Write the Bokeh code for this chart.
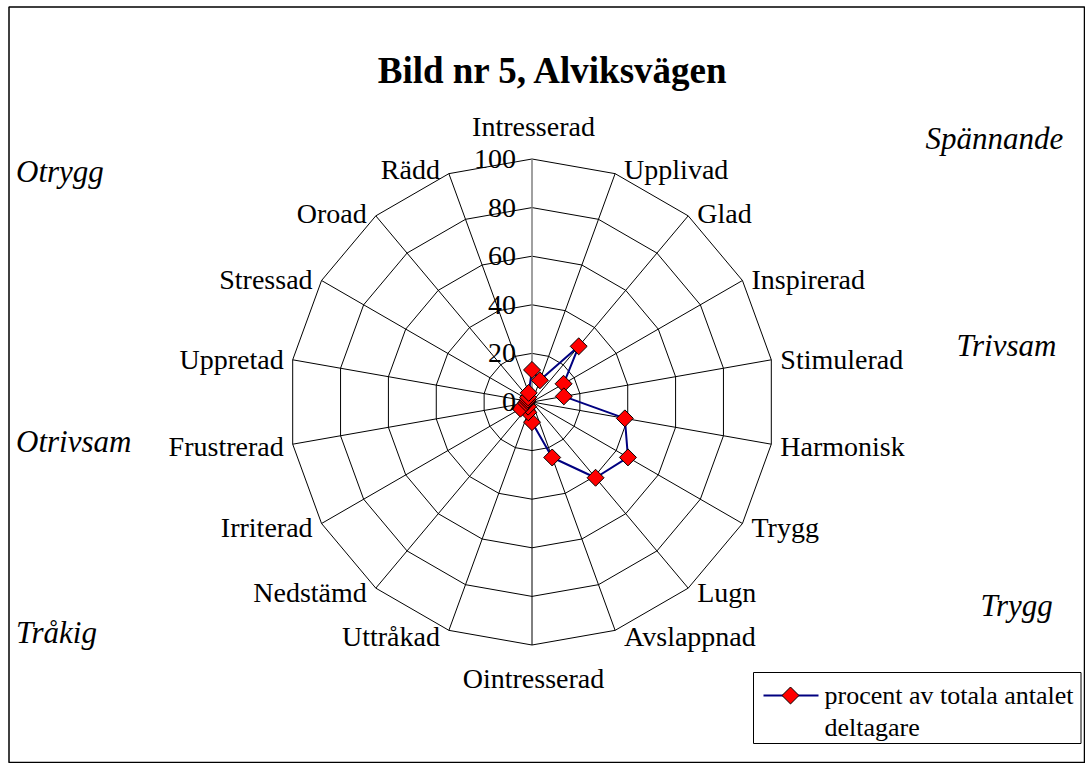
import numpy as np
from bokeh.plotting import figure
from bokeh.models import Range1d, ColumnDataSource
from bokeh.core.properties import value
from bokeh.embed import file_html
from bokeh.resources import INLINE

# ---------------- data ----------------
title = "Bild nr 5, Alviksvägen"
categories = ["Intresserad", "Upplivad", "Glad", "Inspirerad", "Stimulerad",
              "Harmonisk", "Trygg", "Lugn", "Avslappnad", "Ointresserad",
              "Uttråkad", "Nedstämd", "Irriterad", "Frustrerad", "Uppretad",
              "Stressad", "Oroad", "Rädd"]
values = [13.2, 9.5, 29.9, 15.0, 13.3, 38.8, 45.6, 40.7, 24.3, 8.3,
          4.5, 2.5, 5.5, 2.5, 2.0, 2.0, 2.5, 4.0]
ticks = [0, 20, 40, 60, 80, 100]
series_name = ["procent av totala antalet", "deltagare"]
corner_labels = ["Otrygg", "Otrivsam", "Tråkig", "Spännande", "Trivsam", "Trygg"]

# ---------------- layout (page pixels) ----------------
FONT = "Liberation Serif"
W, H = 1085, 763
cx, cy = 531.5, 401.5          # radar centre
scale = 2.43                    # px per value unit
rmax = max(ticks)

p = figure(width=W, height=H, x_range=Range1d(0, W), y_range=Range1d(H, 0),
           output_backend="svg", toolbar_location=None,
           x_axis_type=None, y_axis_type=None, min_border=0)
p.outline_line_color = None
p.background_fill_color = "white"
p.border_fill_color = "white"

# chart border
p.quad(left=[8.5], right=[1084], top=[6.5], bottom=[762], fill_color="white",
       line_color="black", line_width=1.5)

n = len(categories)
theta = np.deg2rad(np.arange(n) * 360.0 / n)
sx, sy = np.sin(theta), -np.cos(theta)

def to_px(r):
    r = np.asarray(r, dtype=float)
    return cx + r * scale * sx, cy + r * scale * sy

# rings
ring_xs, ring_ys = [], []
for t in ticks[1:]:
    x, y = to_px(np.full(n, t))
    ring_xs.append(list(x) + [x[0]])
    ring_ys.append(list(y) + [y[0]])
p.multi_line(ring_xs, ring_ys, line_color="black", line_width=1)

# spokes
tx, ty = to_px(np.full(n, rmax))
p.segment(x0=[cx] * (n - 1), y0=[cy] * (n - 1), x1=list(tx[1:]), y1=list(ty[1:]),
          line_color="black", line_width=1)
p.segment(x0=[cx], y0=[cy], x1=[tx[0]], y1=[ty[0]], line_color="#808080", line_width=1.5)

# series
vx, vy = to_px(values)
p.line(list(vx) + [vx[0]], list(vy) + [vy[0]], line_color="#000080", line_width=2)
p.scatter(vx, vy, marker="square", angle=np.pi / 4, size=12,
          fill_color="#FF0000", line_color="black", line_width=1)

# tick labels
tick_y = [cy - t * scale for t in ticks]
p.text(x=[cx - 16] * len(ticks), y=tick_y, text=[str(t) for t in ticks],
       text_font=value(FONT), text_font_size=value("28px"),
       text_align="right", text_baseline="middle", text_color="black")

# category labels
lx, ly, la = [], [], []
for i, c in enumerate(categories):
    deg = i * 360.0 / n
    if abs(deg) < 1e-6:
        lx.append(tx[i] + 1.5); ly.append(ty[i] - 33); la.append("center")
    elif abs(deg - 180) < 1e-6:
        lx.append(tx[i] + 1.5); ly.append(ty[i] + 33); la.append("center")
    elif deg < 180:
        lx.append(tx[i] + 9); ly.append(ty[i] - 5 * np.cos(theta[i]) + 1); la.append("left")
    else:
        lx.append(tx[i] - 9); ly.append(ty[i] - 5 * np.cos(theta[i]) + 1); la.append("right")
src = ColumnDataSource(dict(x=lx, y=ly, t=categories, a=la))
p.text(x="x", y="y", text="t", text_align="a", source=src,
       text_font=value(FONT), text_font_size=value("28px"),
       text_baseline="middle", text_color="black")

# corner (italic) labels
cl_x = [15.5, 15.5, 15.5, 925, 956, 980]
cl_y = [171, 441, 632, 137.5, 344.6, 605]
p.text(x=cl_x, y=cl_y, text=corner_labels, text_font=value(FONT),
       text_font_size=value("31px"), text_font_style="italic",
       text_align="left", text_baseline="middle", text_color="black")

# title
p.text(x=[553], y=[70], text=[title], text_font=value(FONT),
       text_font_size=value("37px"), text_font_style="bold",
       text_align="center", text_baseline="alphabetic", text_color="black")

# legend box
p.quad(left=[753], right=[1080.5], top=[672], bottom=[743],
       fill_color="white", line_color="black", line_width=1)
p.line([763, 818], [695, 695], line_color="#000080", line_width=2)
p.scatter([790], [695], marker="square", angle=np.pi / 4, size=12,
          fill_color="#FF0000", line_color="black", line_width=1)
p.text(x=[824, 824], y=[695, 727], text=series_name, text_font=value(FONT),
       text_font_size=value("26px"), text_align="left", text_baseline="middle",
       text_color="black")

open("out.html", "w").write(file_html(p, INLINE))
